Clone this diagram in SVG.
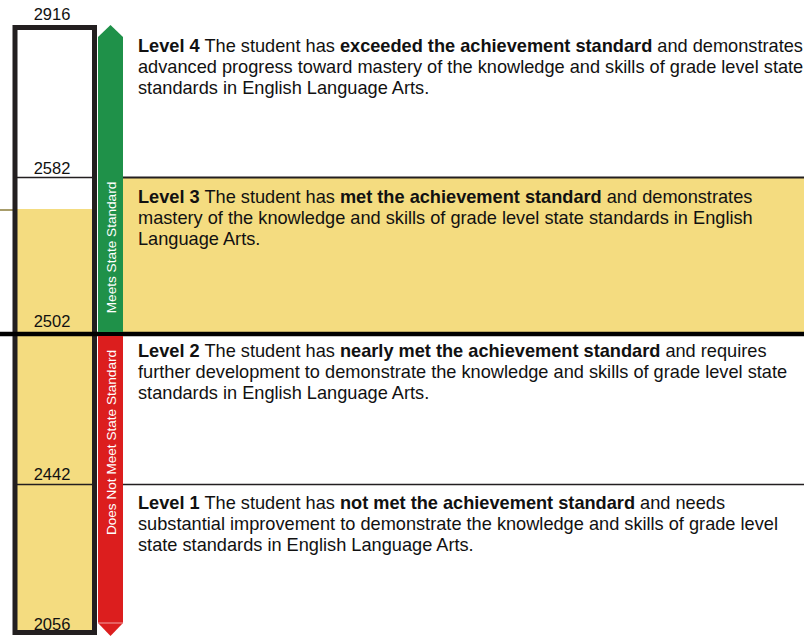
<svg xmlns="http://www.w3.org/2000/svg" width="804" height="636" viewBox="0 0 804 636">
<style>
text{font-family:"Liberation Sans",Arial,sans-serif;fill:#111}
.num{font-size:16.5px;text-anchor:middle}
.lv{font-size:18.2px}
.b{font-weight:bold}
.bar{font-size:13.6px;fill:#fff;text-anchor:middle}
.thin{stroke:#231f20;stroke-width:1.5}
</style>
<rect width="804" height="636" fill="#fff"/>
<g id="bands">
<rect x="123" y="178" width="681" height="154" fill="#f4dc80"/>
<rect x="15" y="209" width="80" height="423" fill="#f4dc80"/>
<line x1="0" y1="210" x2="13" y2="210" stroke="#8b7d3a" stroke-width="1.5"/>
</g>
<g id="scale-box">
<line class="thin" x1="15" y1="177.5" x2="95" y2="177.5" stroke-width="2"/>
<line class="thin" x1="15" y1="484.5" x2="95" y2="484.5"/>
<rect x="15" y="27.5" width="79.5" height="605" fill="none" stroke="#231f20" stroke-width="5"/>
</g>
<g id="connectors">
<line x1="123" y1="177.5" x2="804" y2="177.5" stroke="#231f20" stroke-width="2"/>
<line class="thin" x1="123" y1="484.5" x2="804" y2="484.5"/>
<line x1="0" y1="334" x2="804" y2="334" stroke="#000" stroke-width="4.5"/>
</g>
<g id="meets-arrow">
<path d="M98 37 L110.5 25 L123 37 L123 332 L98 332 Z" fill="#1f9149"/>
<text class="bar" transform="translate(115.5,247.5) rotate(-90)">Meets State Standard</text>
</g>
<g id="not-meets-arrow">
<path d="M98 336 L123 336 L123 623 L110.5 636 L98 623 Z" fill="#dc1e1e"/>
<line x1="98" y1="623" x2="123" y2="623" stroke="#f2a0a0" stroke-width="1"/>
<text class="bar" transform="translate(115.5,442.5) rotate(-90)">Does Not Meet State Standard</text>
</g>
<g id="scores">
<text class="num" x="52" y="20">2916</text>
<text class="num" x="52" y="174">2582</text>
<text class="num" x="52" y="327">2502</text>
<text class="num" x="52" y="480">2442</text>
<text class="num" x="52" y="630">2056</text>
</g>
<g id="level4">
<text class="lv" x="138" y="52"><tspan class="b">Level 4</tspan> The student has <tspan class="b">exceeded the achievement standard</tspan> and demonstrates</text>
<text class="lv" x="138" y="73">advanced progress toward mastery of the knowledge and skills of grade level state</text>
<text class="lv" x="138" y="94">standards in English Language Arts.</text>
</g>
<g id="level3">
<text class="lv" x="138" y="203"><tspan class="b">Level 3</tspan> The student has <tspan class="b">met the achievement standard</tspan> and demonstrates</text>
<text class="lv" x="138" y="224">mastery of the knowledge and skills of grade level state standards in English</text>
<text class="lv" x="138" y="245">Language Arts.</text>
</g>
<g id="level2">
<text class="lv" x="138" y="357"><tspan class="b">Level 2</tspan> The student has <tspan class="b">nearly met the achievement standard</tspan> and requires</text>
<text class="lv" x="138" y="378">further development to demonstrate the knowledge and skills of grade level state</text>
<text class="lv" x="138" y="399">standards in English Language Arts.</text>
</g>
<g id="level1">
<text class="lv" x="138" y="509"><tspan class="b">Level 1</tspan> The student has <tspan class="b">not met the achievement standard</tspan> and needs</text>
<text class="lv" x="138" y="530">substantial improvement to demonstrate the knowledge and skills of grade level</text>
<text class="lv" x="138" y="551">state standards in English Language Arts.</text>
</g>
</svg>
